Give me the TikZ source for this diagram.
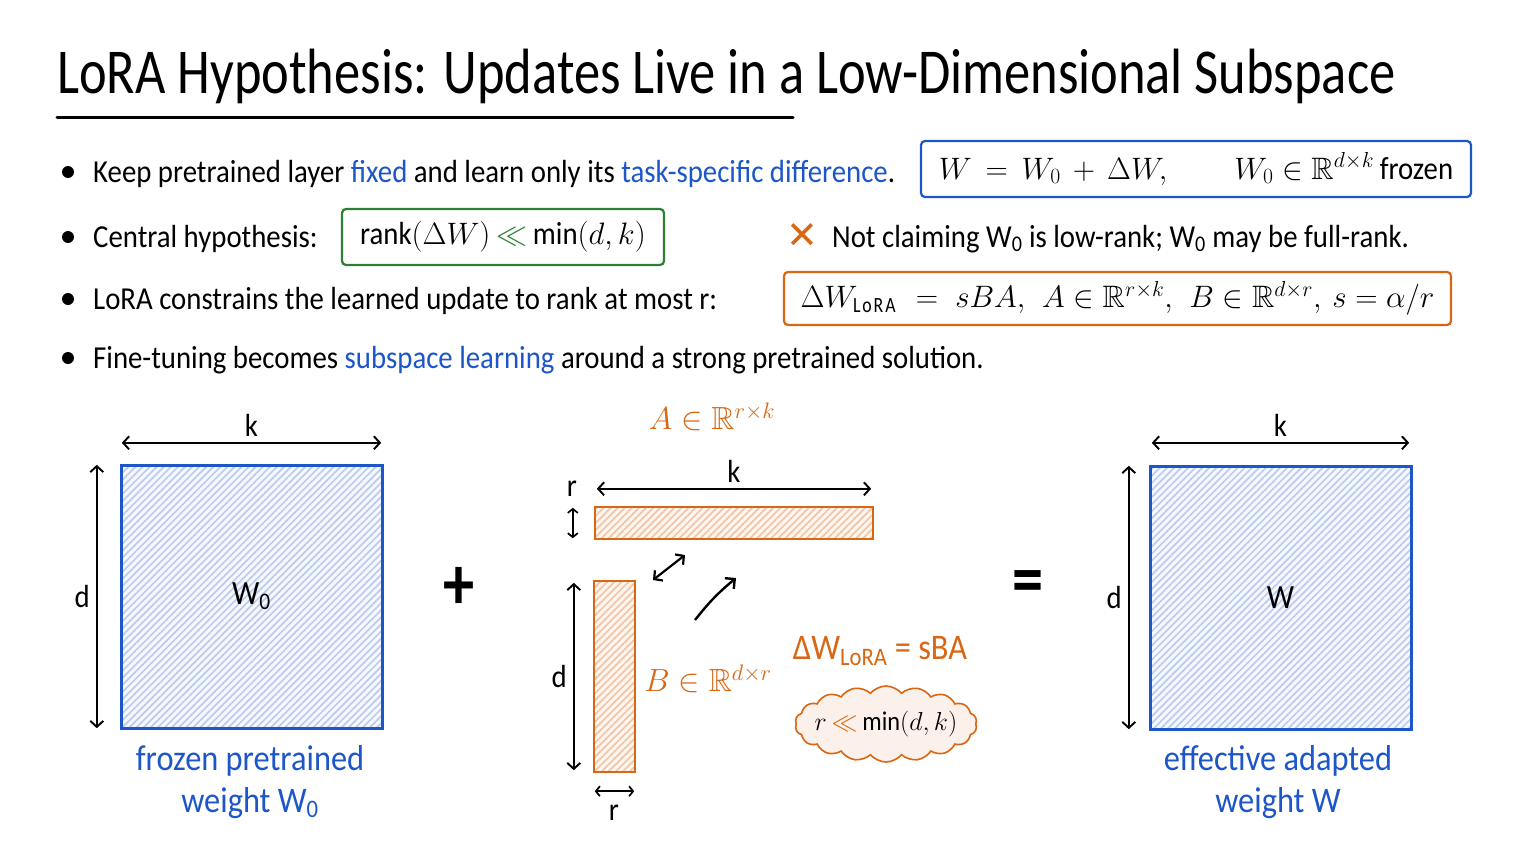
\RequirePackage{fix-cm}
\documentclass[tikz,border=0pt]{standalone}
\usepackage{amsmath,amssymb}
\usepackage{fontspec}
\setmainfont{Carlito}[FakeStretch=0.82]
\newfontfamily\bodyfont{Carlito}[FakeStretch=0.9]
\usetikzlibrary{arrows.meta,patterns.meta,shapes.symbols}
\definecolor{myblue}{RGB}{28,86,200}
\definecolor{myorange}{RGB}{217,102,18}
\definecolor{mygreen}{RGB}{44,128,48}
\newcommand{\fs}[1]{\fontsize{#1}{#1}\selectfont}
\newcommand{\bfs}[1]{\bodyfont\fontsize{#1}{#1}\selectfont}
\tikzset{
  dimarr/.style={line width=1.9pt,{Straight Barb[length=6pt,width=13pt]}-{Straight Barb[length=6pt,width=13pt]}},
  onearr/.style={line width=2.4pt,-{Straight Barb[length=7pt,width=14pt]}},
  bluemat/.style={fill=myblue!4,inner sep=0pt,
     postaction={pattern={Lines[angle=45,distance=5pt,line width=1.7pt]},pattern color=myblue!30},
     postaction={draw=myblue,line width=3pt}},
  orgmat/.style={fill=myorange!6,inner sep=0pt,
     postaction={pattern={Lines[angle=45,distance=5pt,line width=1.7pt]},pattern color=myorange!38},
     postaction={draw=myorange,line width=2.6pt}},
  bul/.style={circle,fill=black,inner sep=0pt,minimum size=12pt},
  btext/.style={anchor=base west,font=\bfs{32},inner sep=0pt},
  eqbox/.style={line width=2.2pt,rounded corners=4pt,inner sep=0pt,font=\fs{31}},
  lbl/.style={font=\bfs{32},inner sep=1pt},
  caption/.style={font=\bfs{36},text=myblue,align=center,inner sep=0pt}
}
\begin{document}
\begin{tikzpicture}[x=1pt,y=-1pt]
\useasboundingbox[fill=white] (0,0) rectangle (1536,864);
% title
\node[anchor=base west,font=\fs{64},inner sep=0pt] (title) at (57,94) {LoRA Hypothesis: Updates Live in a Low-Dimensional Subspace};
\coordinate (ul1) at (57,118);
\coordinate (ul2) at (793,118);
\draw[line width=3pt,line cap=round] (ul1) -- (ul2);
% bullets
\node[bul] (b1) at (68,172) {};
\node[bul] (b2) at (68,237) {};
\node[bul] (b3) at (68,299) {};
\node[bul] (b4) at (68,358) {};
\node[btext] (t1) at (93,182) {Keep pretrained layer \textcolor{myblue}{fixed} and learn only its \textcolor{myblue}{task-specific difference}.};
\node[btext] (t2) at (93,247) {Central hypothesis:};
\node[btext] (t3) at (93,309) {LoRA constrains the learned update to rank at most r:};
\node[btext] (t4) at (93,368) {Fine-tuning becomes \textcolor{myblue}{subspace learning} around a strong pretrained solution.};
% boxes
\node[eqbox,draw=myblue,minimum width=550pt,minimum height=56pt] (eqW) at (1196,169)
  {$W\, =\, W_0 \,+\, \Delta W, \qquad W_0 \in \mathbb{R}^{d\times k}$ {\bfs{32}frozen}};
\node[eqbox,draw=mygreen,minimum width=322pt,minimum height=56pt,font=\fs{31}] (hyp) at (503,237)
  {{\bfs{32}rank}$(\Delta W)$ \textcolor{mygreen}{$\ll$} {\bfs{32}min}$(d,k)$};
\node[font=\fs{38}\fontspec{DejaVu Sans}\bfseries,text=myorange,inner sep=0pt] (cross) at (802,236) {✕};
\node[btext] (t5) at (832,247) {Not claiming W\textsubscript{0} is low-rank; W\textsubscript{0} may be full-rank.};
\node[eqbox,draw=myorange,minimum width=667pt,minimum height=53pt] (eqL) at (1117.5,298.5)
  {$\Delta W_{\mathrm{LoRA}} \;=\; sBA,\ \ A\in\mathbb{R}^{r\times k},\ \ B\in\mathbb{R}^{d\times r},\ s=\alpha/r$};
% left matrix
\node[bluemat,minimum width=261pt,minimum height=263pt,font=\bfs{34}] (W0) at (251.5,596.5) {W\textsubscript{0}};
\draw[dimarr] ([shift={(1pt,22pt)}]W0.north west) -- ([shift={(-1pt,22pt)}]W0.north east) node[midway,above=4pt,lbl] (kL) {k};
\draw[dimarr] ([shift={(-24pt,0pt)}]W0.north west) -- ([shift={(-24pt,0pt)}]W0.south west) node[midway,left=5pt,lbl] (dL) {d};
\node[caption] (capL) at (250,782) {frozen pretrained\\[6pt]weight W\textsubscript{0}};
\node[font=\fs{76}\bfseries,inner sep=0pt] (plus) at (459,588) {+};
% middle
\node[orgmat,minimum width=278pt,minimum height=32pt] (Am) at (734,523) {};
\node[orgmat,minimum width=41pt,minimum height=191pt] (Bm) at (614.5,676.5) {};
\node[font=\fs{32},text=myorange,inner sep=0pt] (Alab) at (712,417) {$A\in\mathbb{R}^{r\times k}$};
\draw[dimarr] ([shift={(2pt,18pt)}]Am.north west) -- ([shift={(-2pt,18pt)}]Am.north east) node[midway,above=4pt,lbl] (kM) {k};
\draw[line width=1.7pt,{Straight Barb[length=4pt,width=10pt]}-{Straight Barb[length=4pt,width=10pt]}] ([shift={(-22pt,-1pt)}]Am.north west) -- ([shift={(-22pt,1pt)}]Am.south west);
\node[lbl] (rA) at (572,489) {r};
\draw[dimarr] ([shift={(-20pt,-2pt)}]Bm.north west) -- ([shift={(-20pt,2pt)}]Bm.south west) node[midway,left=5pt,lbl] (dM) {d};
\draw[line width=1.7pt,{Straight Barb[length=4pt,width=10pt]}-{Straight Barb[length=4pt,width=10pt]}] ([shift={(1pt,-19pt)}]Bm.south west) -- ([shift={(-1pt,-19pt)}]Bm.south east);
\node[lbl] (rB) at (614,813) {r};
\node[font=\fs{32},text=myorange,inner sep=0pt] (Blab) at (708,679) {$B\in\mathbb{R}^{d\times r}$};
\coordinate (da1) at (653,580);
\coordinate (da2) at (685,555);
\draw[dimarr,line width=2.2pt] (da1) -- (da2);
\coordinate (ca1) at (695,620);
\coordinate (ca2) at (736,578);
\draw[onearr] (ca1) to[bend left=6] (ca2);
\node[font=\bfs{36},text=myorange,inner sep=0pt] (dwl) at (880,651) {ΔW\textsubscript{LoRA} = sBA};
\node[cloud,cloud puffs=18,cloud puff arc=100,cloud ignores aspect,draw=myorange,fill=myorange!9,line width=1.6pt,
  minimum width=182pt,minimum height=76pt,inner sep=0pt] (cl) at (886,724) {};
\node[font=\fs{26},inner sep=0pt] (cltext) at (cl.center) {$r$ \textcolor{myorange}{$\ll$} {\bfs{27}min}$(d,k)$};
\node[font=\fs{76}\bfseries,inner sep=0pt] (eq) at (1028,588) {=};
% right matrix
\node[bluemat,minimum width=261pt,minimum height=263pt,font=\bfs{34}] (W) at (1280.5,597.5) {W};
\draw[dimarr] ([shift={(2pt,23pt)}]W.north west) -- ([shift={(-2pt,23pt)}]W.north east) node[midway,above=4pt,lbl] (kR) {k};
\draw[dimarr] ([shift={(-21pt,0pt)}]W.north west) -- ([shift={(-21pt,0pt)}]W.south west) node[midway,left=5pt,lbl] (dR) {d};
\node[caption] (capR) at (1278,782) {effective adapted\\[6pt]weight W};
\end{tikzpicture}
\end{document}
